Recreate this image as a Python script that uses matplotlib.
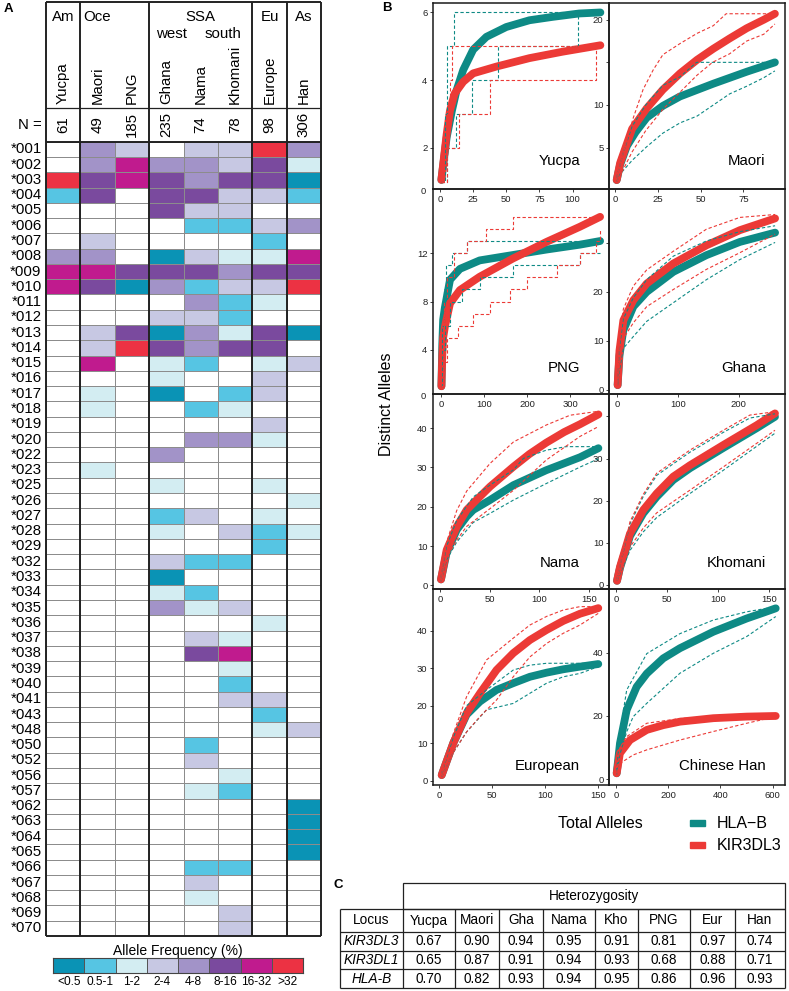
import numpy as np
import matplotlib.pyplot as plt
from matplotlib.colors import ListedColormap
from matplotlib.patches import Rectangle

plt.rcParams['font.family'] = ['Liberation Sans', 'DejaVu Sans']

W, H = 789, 991

# ---------------- panel A data ----------------
POPS = ["Yucpa", "Maori", "PNG", "Ghana", "Nama", "Khomani", "Europe", "Han"]
N_IND = [61, 49, 185, 235, 74, 78, 98, 306]
GROUPS = ["Am", "Oce", "SSA", "Eu", "As"]
GROUP_EDGES = [0, 1, 3, 6, 7, 8]

BIN_LABELS = ["<0.5", "0.5-1", "1-2", "2-4", "4-8", "8-16", "16-32", ">32"]
BIN_COLORS = ["#0A93B5", "#56C5E3", "#D3EDF2", "#C7C8E3",
              "#A293C8", "#7A4A9E", "#C01B8E", "#EC3243"]

ALLELES = ["*001", "*002", "*003", "*004", "*005", "*006", "*007", "*008",
           "*009", "*010", "*011", "*012", "*013", "*014", "*015", "*016",
           "*017", "*018", "*019", "*020", "*022", "*023", "*025", "*026",
           "*027", "*028", "*029", "*032", "*033", "*034", "*035", "*036",
           "*037", "*038", "*039", "*040", "*041", "*043", "*048", "*050",
           "*052", "*056", "*057", "*062", "*063", "*064", "*065", "*066",
           "*067", "*068", "*069", "*070"]

# frequency class: 0 = absent, 1 = <0.5 ... 8 = >32 (columns as POPS)
FREQ_CLASS = [
    [0, 5, 4, 0, 4, 4, 8, 5],
    [0, 5, 7, 5, 5, 4, 6, 3],
    [8, 6, 7, 6, 5, 6, 6, 1],
    [2, 6, 0, 6, 6, 4, 4, 2],
    [0, 0, 0, 6, 4, 4, 0, 0],
    [0, 0, 0, 0, 2, 2, 4, 5],
    [0, 4, 0, 0, 0, 0, 2, 0],
    [5, 5, 0, 1, 4, 3, 3, 7],
    [7, 7, 6, 6, 6, 5, 6, 6],
    [7, 6, 1, 5, 2, 4, 4, 8],
    [0, 0, 0, 0, 5, 2, 3, 0],
    [0, 0, 0, 4, 4, 2, 0, 0],
    [0, 4, 6, 1, 5, 3, 6, 1],
    [0, 4, 8, 6, 5, 6, 6, 0],
    [0, 7, 0, 3, 2, 0, 3, 4],
    [0, 0, 0, 3, 0, 0, 4, 0],
    [0, 3, 0, 1, 0, 2, 4, 0],
    [0, 3, 0, 0, 2, 3, 0, 0],
    [0, 0, 0, 0, 0, 0, 4, 0],
    [0, 0, 0, 0, 5, 5, 3, 0],
    [0, 0, 0, 5, 0, 0, 0, 0],
    [0, 3, 0, 0, 0, 0, 0, 0],
    [0, 0, 0, 3, 0, 0, 3, 0],
    [0, 0, 0, 0, 0, 0, 0, 3],
    [0, 0, 0, 2, 4, 0, 3, 0],
    [0, 0, 0, 3, 0, 4, 2, 3],
    [0, 0, 0, 0, 0, 0, 2, 0],
    [0, 0, 0, 4, 2, 2, 0, 0],
    [0, 0, 0, 1, 0, 0, 0, 0],
    [0, 0, 0, 3, 2, 0, 0, 0],
    [0, 0, 0, 5, 3, 4, 0, 0],
    [0, 0, 0, 0, 0, 0, 3, 0],
    [0, 0, 0, 0, 4, 3, 0, 0],
    [0, 0, 0, 0, 6, 7, 0, 0],
    [0, 0, 0, 0, 0, 3, 0, 0],
    [0, 0, 0, 0, 0, 2, 0, 0],
    [0, 0, 0, 0, 0, 4, 4, 0],
    [0, 0, 0, 0, 0, 0, 2, 0],
    [0, 0, 0, 0, 0, 0, 3, 4],
    [0, 0, 0, 0, 2, 0, 0, 0],
    [0, 0, 0, 0, 4, 0, 0, 0],
    [0, 0, 0, 0, 0, 3, 0, 0],
    [0, 0, 0, 0, 3, 2, 0, 0],
    [0, 0, 0, 0, 0, 0, 0, 1],
    [0, 0, 0, 0, 0, 0, 0, 1],
    [0, 0, 0, 0, 0, 0, 0, 1],
    [0, 0, 0, 0, 0, 0, 0, 1],
    [0, 0, 0, 0, 2, 2, 0, 0],
    [0, 0, 0, 0, 4, 0, 0, 0],
    [0, 0, 0, 0, 3, 0, 0, 0],
    [0, 0, 0, 0, 0, 4, 0, 0],
    [0, 0, 0, 0, 0, 4, 0, 0],
]

# ---------------- panel B data (total alleles, distinct alleles) ----------------
YUCPA_HLA = [(1, 1.05), (5, 2.3), (9, 3.1), (12.5, 3.7), (17.5, 4.3), (25, 4.9), (35, 5.28),
             (50, 5.57), (67.5, 5.77), (85, 5.87), (105, 5.97), (121, 6.0)]
YUCPA_HLA_LO = [(1, 1), (5, 2), (12, 3), (24, 4), (44, 5), (104, 6), (121, 6)]
YUCPA_HLA_HI = [(1, 1), (4, 3), (5, 5), (10.5, 6), (121, 6)]
YUCPA_KIR = [(1, 1.05), (5, 2.4), (7.5, 3.1), (11, 3.6), (17.5, 3.95), (25, 4.2), (42.5, 4.4),
             (67.5, 4.65), (92.5, 4.84), (121, 5.03)]
YUCPA_KIR_LO = [(1, 1), (5, 2), (14, 3), (38, 4), (118, 5), (121, 5)]
YUCPA_KIR_HI = [(1, 1), (3, 2), (5, 3), (7.5, 4), (8.8, 5), (121, 5)]

MAORI_HLA = [(1, 1.2), (3, 3.0), (7, 5.2), (12, 6.8), (18.5, 8.5), (28, 9.9), (38, 11.0),
             (57.5, 12.5), (77, 13.9), (93.5, 15.0)]
MAORI_HLA_LO = [(1, 1), (3, 1.9), (10, 3.5), (18.5, 5.1), (28, 6.7), (38, 7.9), (48, 8.7),
                (57.5, 10), (67, 11.3), (77, 12.2), (87, 13.2), (93.5, 14)]
MAORI_HLA_HI = [(1, 1.5), (5, 4.5), (10, 7.5), (18, 10), (28, 12.3), (38, 13.3), (47.7, 15),
                (93.5, 15)]
MAORI_KIR = [(1, 1.2), (3, 3.2), (10, 7.2), (18.5, 9.6), (28, 11.8), (38, 13.7), (48, 15.3),
             (57.5, 16.6), (67, 17.8), (77, 19.0), (87, 20.0), (93.5, 20.7)]
MAORI_KIR_LO = [(1, 1), (5, 2.5), (10, 4.5), (18, 7), (28, 9.5), (38, 11.5), (48, 13.5),
                (57, 15), (67, 16), (77, 17.5), (87, 18.3), (93.5, 19.5)]
MAORI_KIR_HI = [(1, 1.5), (5, 4.5), (10.7, 8.5), (16.4, 11.8), (22.3, 14.1), (28, 15.9),
                (38, 17.2), (48, 18.4), (57.5, 19.3), (65, 20.7), (93.5, 20.7)]

PNG_HLA = [(1, 1), (3, 4.5), (5, 6.5), (9, 7.5), (21, 9.8), (44, 10.7), (90, 11.4),
           (168, 11.85), (246, 12.3), (323, 12.7), (370, 13.0)]
PNG_HLA_LO = [(1, 1), (4, 4), (10, 6), (20, 8), (50, 9), (91, 10), (168, 11), (323, 12), (370, 12)]
PNG_HLA_HI = [(1, 1), (3, 6), (6, 9), (12, 11), (25, 12), (60, 13), (370, 13)]
PNG_KIR = [(1, 1), (3, 3.5), (5, 5), (9, 5.9), (21, 7.85), (44, 8.95), (90, 10.05),
           (168, 11.57), (246, 12.94), (323, 14.18), (370, 15.0)]
PNG_KIR_LO = [(1, 1), (5, 3), (15, 5), (40, 6), (75, 7), (114, 8), (160, 9), (199, 10),
              (269, 11), (323, 12), (360, 13), (370, 14)]
PNG_KIR_HI = [(1, 1), (4, 5), (8, 8), (15, 10), (30, 12), (60, 13), (105, 14), (168, 15), (370, 15)]

GHANA_HLA = [(1, 1), (4, 7), (10.4, 12.2), (26.8, 17), (48.8, 20), (92.6, 24.1), (147, 27.5),
             (202, 30.2), (260, 32.1)]
GHANA_HLA_LO = [(1, 1), (4, 4), (10.4, 8.5), (26.8, 10.9), (48.8, 14), (92.6, 17.8),
                (147, 22.5), (202, 26.6), (260, 30.1)]
GHANA_HLA_HI = [(1, 1.5), (4, 8.5), (10.4, 14.5), (26.8, 18.8), (48.8, 22.5), (92.6, 27.3),
                (147, 30.4), (202, 32.3), (260, 33.5)]
GHANA_KIR = [(1, 1), (4, 8), (10.4, 14.2), (26.8, 18.3), (48.8, 21.7), (92.6, 25.8), (147, 29.5),
             (202, 32.6), (260, 35.0)]
GHANA_KIR_LO = [(1, 1), (4, 5), (10.4, 10.5), (26.8, 13.7), (48.8, 17), (92.6, 20.5),
                (147, 24.6), (202, 28.0), (260, 31.8)]
GHANA_KIR_HI = [(1, 1.5), (4, 9.5), (10.4, 16.5), (26.8, 21.2), (48.8, 24.5), (92.6, 28.3),
                (147, 32.8), (202, 35.2), (260, 35.8)]

NAMA_HLA = [(1, 1.5), (6.7, 8.3), (16.8, 14.1), (26.9, 17.5), (33.5, 19.2), (50.3, 21.7),
            (74, 25.5), (107, 29.3), (141, 32.6), (159.5, 34.9)]
NAMA_HLA_LO = [(1, 1), (6.7, 6.5), (16.8, 11), (33.5, 16), (50.3, 18.3), (74, 21.7),
               (107, 25.9), (141, 30.1), (159.5, 32.2)]
NAMA_HLA_HI = [(1, 2), (6.7, 10), (16.8, 16.5), (33.5, 22.5), (50.3, 25.5), (74, 29.4),
               (84, 32.3), (107, 34.4), (127, 35.3), (159.5, 35.3)]
NAMA_KIR = [(1, 1.5), (6.7, 9.0), (16.8, 14.9), (26.9, 19.2), (33.5, 20.9), (50.3, 25.1),
            (74, 30.2), (90, 33.4), (107, 36.3), (125, 39.0), (141, 41.0), (159.5, 43.5)]
NAMA_KIR_LO = [(1, 1), (6.7, 7), (16.8, 11.5), (26.9, 15), (50.3, 19.5), (74, 24.2),
               (107, 31.9), (141, 37.9), (159.5, 40.4)]
NAMA_KIR_HI = [(1, 2), (6.7, 11), (16.8, 19), (26.9, 24), (50.3, 31), (74, 36.5), (107, 40.8),
               (131, 43.3), (159.5, 44.3)]

KHOMANI_HLA = [(1, 1), (3.9, 4.0), (13.7, 11.6), (26.7, 17.0), (39.8, 20.9), (56, 24.9),
               (72.4, 27.7), (88.7, 30.1), (105, 32.5), (121, 34.8), (137.7, 37.2), (155.6, 39.9)]
KHOMANI_HLA_LO = [(1, 1), (13.7, 8.2), (26.7, 12.6), (39.8, 16), (72.4, 21.7), (105, 27.2),
                  (137.7, 32.9), (155.6, 36)]
KHOMANI_HLA_HI = [(1, 1.5), (13.7, 14.5), (26.7, 21), (39.8, 26), (72.4, 31.5), (105, 36.2),
                  (131, 39.6), (155.6, 40.6)]
KHOMANI_KIR = [(1, 1), (3.9, 4.3), (13.7, 12.2), (26.7, 17.8), (39.8, 21.7), (56, 25.7),
               (72.4, 28.4), (88.7, 30.8), (105, 33.2), (121, 35.5), (137.7, 37.9), (155.6, 40.7)]
KHOMANI_KIR_LO = [(1, 1), (13.7, 9), (26.7, 13.5), (39.8, 17.1), (72.4, 22.5), (105, 28),
                  (137.7, 33.6), (155.6, 36.7)]
KHOMANI_KIR_HI = [(1, 1.5), (13.7, 15), (26.7, 21.5), (39.8, 26.5), (72.4, 32), (105, 36.7),
                  (131, 40.3), (155.6, 41.1)]

EUROPE_HLA = [(2.3, 1.5), (13.2, 10), (25.8, 17.6), (38.4, 21.1), (54, 24.2), (69.8, 26),
              (85.5, 27.7), (101.3, 28.8), (117, 29.7), (132.7, 30.4), (150, 31.1)]
EUROPE_HLA_LO = [(2.3, 1), (13.2, 7.5), (25.8, 13), (44.6, 18.9), (69.8, 20.6), (85.5, 23.3),
                 (101.3, 26), (117, 27.7), (132.7, 28.6), (150, 30.4)]
EUROPE_HLA_HI = [(2.3, 2), (13.2, 11.5), (25.8, 20), (44.6, 24.2), (69.8, 29.5), (85.5, 30.8),
                 (101.3, 31.3), (150, 31.3)]
EUROPE_KIR = [(2.3, 1.5), (13.2, 10), (25.8, 18), (38.4, 23.3), (54, 29.5), (69.8, 34),
              (85.5, 37.5), (101.3, 40.2), (117, 42.6), (132.7, 44.5), (150, 46)]
EUROPE_KIR_LO = [(2.3, 1), (13.2, 7.5), (25.8, 13), (38.4, 17.1), (54, 21.5), (69.8, 27.7),
                 (85.5, 33), (101.3, 36.6), (117, 39.3), (132.7, 41.5), (150, 44.6)]
EUROPE_KIR_HI = [(2.3, 2), (13.2, 12.5), (25.8, 22.4), (44.6, 32.2), (69.8, 38), (85.5, 41.5),
                 (101.3, 43.8), (117, 45.5), (132.7, 46.4), (150, 46.4)]

HAN_HLA = [(2.6, 1.9), (15.3, 11.4), (41, 21.9), (79, 29.2), (118, 33.4), (181, 38.2),
           (245, 41.4), (309, 44), (373, 46.6), (437, 48.7), (501, 50.8), (564, 52.6), (612, 54)]
HAN_HLA_LO = [(2.6, 1.5), (15.3, 8), (41, 15), (66, 19.8), (118, 24), (245, 33.5),
              (373, 39.8), (501, 45.1), (612, 51.4)]
HAN_HLA_HI = [(2.6, 2.5), (15.3, 15), (41, 28.2), (118, 39.7), (245, 46), (373, 50.3),
              (501, 52.9), (612, 54.5)]
HAN_KIR = [(2.6, 1.9), (15, 8.2), (53.6, 12.4), (118, 15.6), (181, 17.1), (245, 18.2),
           (373, 19.3), (501, 19.8), (612, 20)]
HAN_KIR_LO = [(2.6, 1.5), (15, 5), (66, 7.7), (118, 9.3), (245, 12.4), (373, 15.1),
              (501, 17.7), (612, 19.8)]
HAN_KIR_HI = [(2.6, 2), (15, 10), (41, 13.5), (118, 17.7), (245, 19.2), (373, 19.8), (612, 20.3)]

# ---------------- panel C data ----------------
HET_POPS = ["Yucpa", "Maori", "Gha", "Nama", "Kho", "PNG", "Eur", "Han"]
HET_LOCI = ["KIR3DL3", "KIR3DL1", "HLA-B"]
HET_KIR3DL3 = [0.67, 0.90, 0.94, 0.95, 0.91, 0.81, 0.97, 0.74]
HET_KIR3DL1 = [0.65, 0.87, 0.91, 0.94, 0.93, 0.68, 0.88, 0.71]
HET_HLAB = [0.70, 0.82, 0.93, 0.94, 0.95, 0.86, 0.96, 0.93]

TEAL = "#0E8A85"
RED = "#EC3A36"


def box(x0, y0, x1, y1):
    # pixel box (top-left origin) -> figure rect
    return [x0 / W, 1 - y1 / H, (x1 - x0) / W, (y1 - y0) / H]


fig = plt.figure(figsize=(W / 100, H / 100), dpi=100)

# ================= A: heatmap =================
nrow = len(ALLELES)
row_h = (936 - 141.7) / nrow
top = -(141.7 - 1.7) / row_h
ax = fig.add_axes(box(46, 1.7, 321, 936))
cmap = ListedColormap(["white"] + BIN_COLORS)
ax.pcolormesh(np.arange(len(POPS) + 1), np.arange(nrow + 1), np.array(FREQ_CLASS),
              cmap=cmap, vmin=-0.5, vmax=8.5, edgecolors="#8c8c8c", linewidth=0.7)
ax.set_xlim(0, len(POPS))
ax.set_ylim(nrow, top)
ax.axis("off")

ax.vlines(GROUP_EDGES, top, nrow, color="#222222", lw=1.4, clip_on=False)
ax.hlines([top, 0, nrow], 0, len(POPS), color="#222222", lw=1.4, clip_on=False)
hdr_line = -(141.7 - 107.7) / row_h
ax.hlines(hdr_line, 0, len(POPS), color="#222222", lw=0.9)

for i, a in enumerate(ALLELES):
    ax.text(-0.13, i + 0.5, a, ha="right", va="center", fontsize=10.8)
for j, (p, n) in enumerate(zip(POPS, N_IND)):
    ax.text(j + 0.5, -2.45, p, rotation=90, ha="center", va="bottom", fontsize=10.8)
    ax.text(j + 0.5, -1.12, str(n), rotation=90, ha="center", va="center", fontsize=10.8)
ax.text(-0.13, -1.12, "N =", ha="right", va="center", fontsize=10.8)
for g, gx in zip(GROUPS, [0.5, 1.5, 4.5, 6.5, 7.5]):
    ax.text(gx, -8.18, g, ha="center", va="center", fontsize=10.8)
ax.text(3.66, -7.05, "west", ha="center", va="center", fontsize=10.8)
ax.text(5.14, -7.05, "south", ha="center", va="center", fontsize=10.8)

# colour key
axl = fig.add_axes(box(53, 958, 303, 973))
axl.pcolormesh(np.arange(len(BIN_COLORS) + 1), [0, 1], [np.arange(len(BIN_COLORS))],
               cmap=ListedColormap(BIN_COLORS), edgecolors="#555555", linewidth=0.6)
axl.set_xticks(np.arange(len(BIN_LABELS)) + 0.5, BIN_LABELS, fontsize=8.6)
axl.set_yticks([])
axl.tick_params(length=0, pad=2.5)
for s in axl.spines.values():
    s.set_color("#444444")
axl.set_title("Allele Frequency (%)", fontsize=10, pad=2.5)

# ================= B: accumulation curves =================
ROW_Y = [3, 189, 394, 589, 785]
COL_X = [433, 609, 785]

PANELS = [
    # name, row, col, curves, xlim, ylim, xticks, yticks, hidden ytick, steps
    ("Maori", 0, 1, (MAORI_HLA, MAORI_HLA_LO, MAORI_HLA_HI, MAORI_KIR, MAORI_KIR_LO, MAORI_KIR_HI),
     (-3.5, 99.4), (0.15, 21.96), [0, 25, 50, 75], [5, 10, 15, 20], 15, False),
    ("Ghana", 1, 1, (GHANA_HLA, GHANA_HLA_LO, GHANA_HLA_HI, GHANA_KIR, GHANA_KIR_LO, GHANA_KIR_HI),
     (-13.2, 276.3), (-0.82, 41.0), [0, 100, 200], [0, 10, 20, 30], 30, False),
    ("Khomani", 2, 1, (KHOMANI_HLA, KHOMANI_HLA_LO, KHOMANI_HLA_HI, KHOMANI_KIR, KHOMANI_KIR_LO, KHOMANI_KIR_HI),
     (-6.85, 165.4), (-0.95, 45.3), [0, 50, 100, 150], [0, 10, 20, 30, 40], 40, False),
    ("Chinese Han", 3, 1, (HAN_HLA, HAN_HLA_LO, HAN_HLA_HI, HAN_KIR, HAN_KIR_LO, HAN_KIR_HI),
     (-26.8, 647.5), (-1.8, 60.1), [0, 200, 400, 600], [0, 20, 40], None, False),
    ("Yucpa", 0, 0, (YUCPA_HLA, YUCPA_HLA_LO, YUCPA_HLA_HI, YUCPA_KIR, YUCPA_KIR_LO, YUCPA_KIR_HI),
     (-5.3, 127.5), (0.78, 6.28), [0, 25, 50, 75, 100], [2, 4, 6], None, True),
    ("PNG", 1, 0, (PNG_HLA, PNG_HLA_LO, PNG_HLA_HI, PNG_KIR, PNG_KIR_LO, PNG_KIR_HI),
     (-18.6, 390.7), (0.36, 17.3), [0, 100, 200, 300], [4, 8, 12], None, True),
    ("Nama", 2, 0, (NAMA_HLA, NAMA_HLA_LO, NAMA_HLA_HI, NAMA_KIR, NAMA_KIR_LO, NAMA_KIR_HI),
     (-7.05, 170.2), (-0.94, 48.7), [0, 50, 100, 150], [0, 10, 20, 30, 40], None, False),
    ("European", 3, 0, (EUROPE_HLA, EUROPE_HLA_LO, EUROPE_HLA_HI, EUROPE_KIR, EUROPE_KIR_LO, EUROPE_KIR_HI),
     (-5.9, 160.1), (-1.15, 51.1), [0, 50, 100, 150], [0, 10, 20, 30, 40], None, False),
]
NAME_POS = {0: 0.15, 1: 0.127, 2: 0.133, 3: 0.097}

for name, r, c, curves, xl, yl, xt, yt, hide, steps in PANELS:
    axb = fig.add_axes(box(COL_X[c], ROW_Y[r], COL_X[c + 1], ROW_Y[r + 1]), facecolor="none")
    ds = "steps-post" if steps else "default"
    for k, col in ((0, TEAL), (3, RED)):
        mx, my = zip(*curves[k])
        axb.plot(mx, my, color=col, lw=5.6, solid_capstyle="round", solid_joinstyle="round")
    for k, col in ((1, TEAL), (2, TEAL), (4, RED), (5, RED)):
        bx, by = zip(*curves[k])
        axb.plot(bx, by, color=col, lw=0.8, ls=(0, (3, 2)), drawstyle=ds)
    axb.set_xlim(xl)
    axb.set_ylim(yl)
    axb.set_xticks(xt)
    axb.set_yticks(yt, ["" if v == hide else str(v) for v in yt])
    axb.tick_params(labelsize=6.8, length=2.5, width=0.6, pad=1.5, colors="#222222")
    for s in axb.spines.values():
        s.set_linewidth(1.1)
        s.set_color("#1a1a1a")
    if steps:
        axb.text(-0.04, -0.012, "0", transform=axb.transAxes, ha="right", va="center",
                 fontsize=6.8, color="#222222")
    nx = 0.835 if c == 0 else 0.89
    axb.text(nx, NAME_POS[r], name, transform=axb.transAxes, ha="right", va="center",
             fontsize=10.8)

# ================= overlay: labels, legend, table =================
ov = fig.add_axes([0, 0, 1, 1], facecolor="none")
ov.set_xlim(0, W)
ov.set_ylim(H, 0)
ov.axis("off")

ov.text(8, 9, "A", fontsize=9.5, fontweight="bold", ha="center", va="center")
ov.text(387, 8, "B", fontsize=9.5, fontweight="bold", ha="center", va="center")
ov.text(338, 885, "C", fontsize=9.5, fontweight="bold", ha="center", va="center")

ov.text(387, 404, "Distinct Alleles", rotation=90, ha="center", va="center", fontsize=11.5)
ov.text(600, 823, "Total Alleles", ha="center", va="center", fontsize=11.5)
for y, col, lab in ((823, TEAL, "HLA\u2212B"), (845, RED, "KIR3DL3")):
    ov.add_patch(Rectangle((690, y - 2.8), 15, 5.6, color=col))
    ov.text(717, y, lab, ha="left", va="center", fontsize=11.5)

# table
TX = [340, 403, 455, 499, 543, 595, 638, 690, 735, 785]
TY = [883, 909, 932, 950.7, 969.3, 988]
lc = "#222222"
ov.add_patch(Rectangle((TX[1], TY[0]), TX[-1] - TX[1], TY[1] - TY[0], fill=False, ec=lc, lw=0.9))
ov.hlines(TY[1:], TX[0], TX[-1], color=lc, lw=0.9)
ov.vlines(TX, TY[1], TY[-1], color=lc, lw=0.9)
ov.text((TX[1] + TX[-1]) / 2, (TY[0] + TY[1]) / 2, "Heterozygosity", ha="center", va="center",
        fontsize=9.8)
ov.text((TX[0] + TX[1]) / 2, (TY[1] + TY[2]) / 2, "Locus", ha="center", va="center", fontsize=9.8)
for j, p in enumerate(HET_POPS):
    ov.text((TX[j + 1] + TX[j + 2]) / 2, (TY[1] + TY[2]) / 2, p, ha="center", va="center",
            fontsize=9.8)
for i, (locus, vals) in enumerate(zip(HET_LOCI, [HET_KIR3DL3, HET_KIR3DL1, HET_HLAB])):
    yc = (TY[i + 2] + TY[i + 3]) / 2
    ov.text((TX[0] + TX[1]) / 2, yc, locus, ha="center", va="center", fontsize=9.8,
            style="italic")
    for j, v in enumerate(vals):
        ov.text((TX[j + 1] + TX[j + 2]) / 2, yc, f"{v:.2f}", ha="center", va="center",
                fontsize=9.8)

fig.savefig("out.png", dpi=100, facecolor="white")
